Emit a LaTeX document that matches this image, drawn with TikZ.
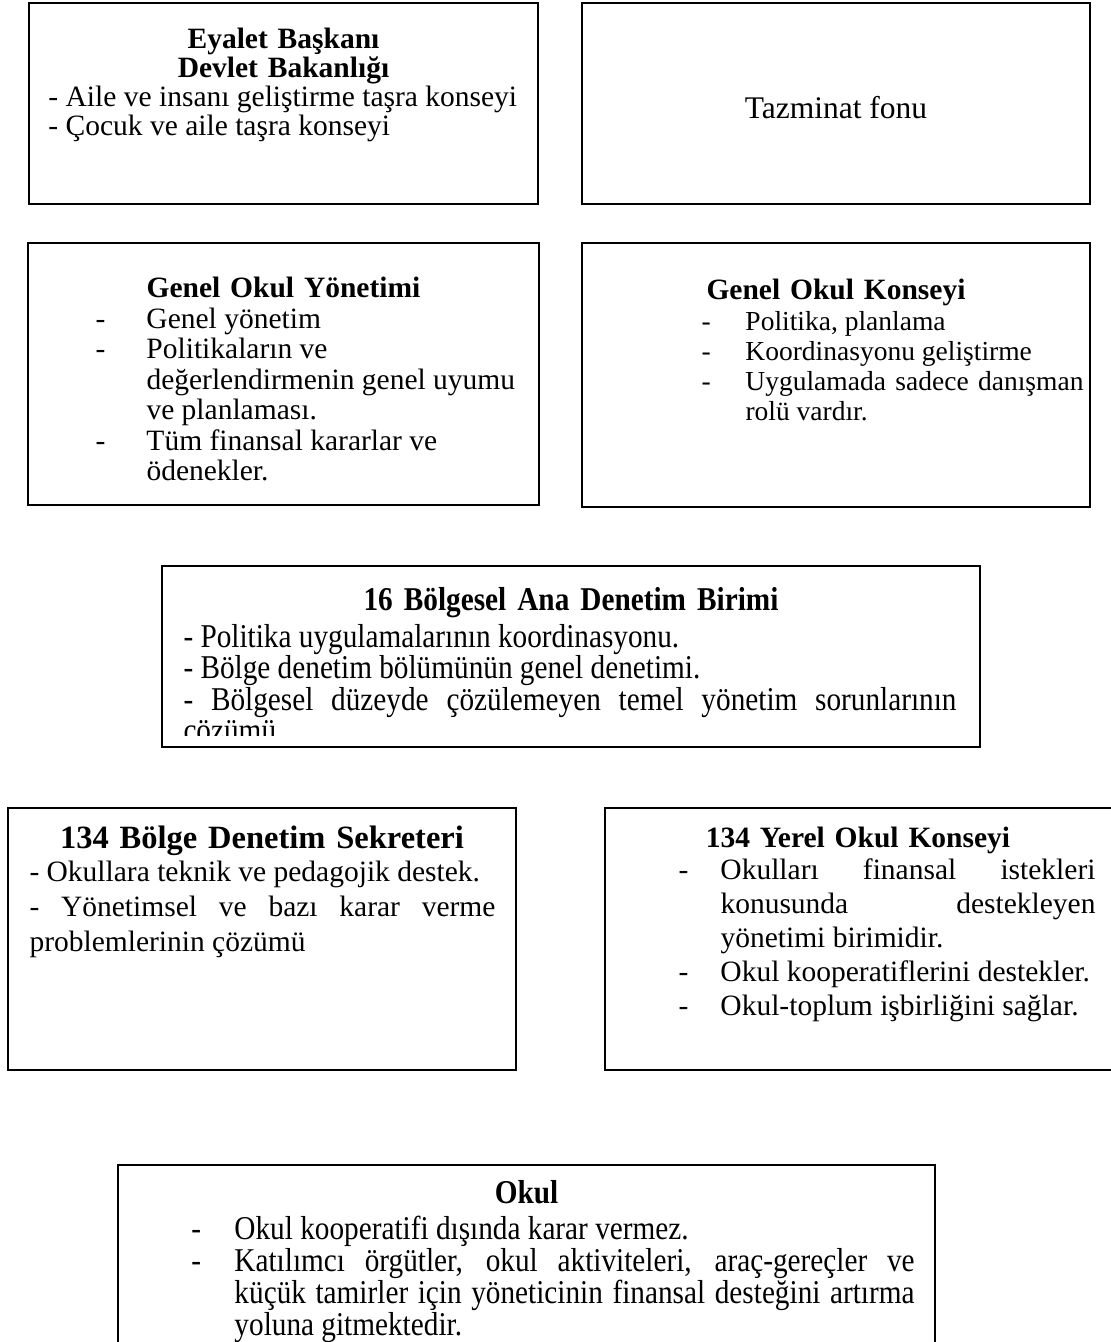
\documentclass[tikz,border=0pt]{standalone}
\usepackage{fontspec}
\setmainfont{Liberation Serif}
\newfontfamily\darfont[FakeStretch=0.88]{Liberation Serif}
\usetikzlibrary{calc,fit,positioning}
\newcommand{\madde}[1]{\noindent\llap{\makebox[#1][l]{-}}}
\lineskiplimit=-\maxdimen
\hyphenpenalty=10000
\tikzset{
  kutu/.style={draw, line width=0.9pt, inner sep=0pt, outer sep=0pt},
  baslik/.style={inner sep=0pt, anchor=base, text width=260pt, align=center, font=\bfseries\fontsize{11.8}{10}\selectfont},
  metin/.style={inner sep=0pt, anchor=base west},
}
\begin{document}
\begin{tikzpicture}[x=0.4pt, y=-0.4pt]
\useasboundingbox (0,0) rectangle (1111,1342);
% kutular
\node[kutu, fit={(29,3) (538,204)}] (eyalet) {};
\node[kutu, fit={(582,3) (1090,204)}] (tazminat) {};
\node[kutu, fit={(28,243) (539,505)}] (genelyon) {};
\node[kutu, fit={(582,243) (1090,507)}] (genelkon) {};
\node[kutu, fit={(162,566) (980,747)}] (bolgesel) {};
\node[kutu, fit={(8,808) (516,1070)}] (sekreter) {};
\node[kutu, fit={(605,808) (1125,1070)}] (yerel) {};
\node[kutu, fit={(118,1165) (935,1400)}] (okul) {};
% 1. satir
\node[baslik, font=\bfseries\fontsize{11.8}{9.2}\selectfont] (eyaletbas) at ($(eyalet.north west)+(254.5,45)$) {Eyalet Başkanı\\Devlet Bakanlığı};
\node[metin, text width=205pt, align=flush left, font=\fontsize{11.8}{10.4}\selectfont] (eyaletmetin) at ($(eyalet.north west)+(19,103)$) {- Aile ve insanı geliştirme taşra konseyi\\- Çocuk ve aile taşra konseyi};
\node[inner sep=0pt, anchor=base, font=\fontsize{12.6}{14}\selectfont] (tazminatyazi) at ($(tazminat.north west)+(254,115)$) {Tazminat fonu};
% 2. satir
\node[baslik] (genelyonbas) at ($(genelyon.north west)+(255.5,54)$) {Genel Okul Yönetimi};
\node[metin, text width=160pt, align=flush left, font=\fontsize{11.8}{12.2}\selectfont] (genelyonmetin) at ($(genelyon.north west)+(118,85)$) {\madde{20.4pt}Genel yönetim\par
  \madde{20.4pt}Politikaların ve\\ değerlendirmenin genel uyumu\\ ve planlaması.\par
  \madde{20.4pt}Tüm finansal kararlar ve\\ ödenekler.};
\node[baslik] (genelkonbas) at ($(genelkon.north west)+(254,56)$) {Genel Okul Konseyi};
\node[metin, text width=135.2pt, align=justify, font=\fontsize{11}{12}\selectfont] (genelkonmetin) at ($(genelkon.north west)+(163,87)$) {\madde{17.6pt}Politika, planlama\par
  \madde{17.6pt}Koordinasyonu geliştirme\par
  \madde{17.6pt}Uygulamada sadece danışman\linebreak rolü vardır.};
% 3. satir
\begin{scope}
\clip (162,566) rectangle (980,735);
\node[baslik, font=\darfont\bfseries\fontsize{13.3}{12.6}\selectfont] (bolgeselbas) at ($(bolgesel.north west)+(409,44)$) {16 Bölgesel Ana Denetim Birimi};
\node[metin, text width=309.2pt, align=justify, font=\darfont\fontsize{13.3}{12.6}\selectfont] (bolgeselmetin) at ($(bolgesel.north west)+(21,81)$) {- Politika uygulamalarının koordinasyonu.\par
  - Bölge denetim bölümünün genel denetimi.\par
  - Bölgesel düzeyde çözülemeyen temel yönetim sorunlarının\linebreak çözümü};
\end{scope}
% 4. satir
\node[baslik, font=\bfseries\fontsize{13}{14}\selectfont] (sekreterbas) at ($(sekreter.north west)+(254,40)$) {134 Bölge Denetim Sekreteri};
\node[metin, text width=186.4pt, align=justify, font=\fontsize{11.8}{14}\selectfont] (sekretermetin) at ($(sekreter.north west)+(21,73)$) {- Okullara teknik ve pedagojik destek.\par
  - Yönetimsel ve bazı karar verme\linebreak problemlerinin çözümü};
\node[baslik] (yerelbas) at ($(yerel.north west)+(253,39)$) {134 Yerel Okul Konseyi};
\node[metin, text width=150pt, align=justify, font=\fontsize{11.8}{13.6}\selectfont] (yerelmetin) at ($(yerel.north west)+(115,71)$) {\madde{16.8pt}Okulları finansal istekleri\linebreak konusunda destekleyen\linebreak yönetimi birimidir.\par
  \madde{16.8pt}\mbox{Okul kooperatiflerini destekler.}\par
  \madde{16.8pt}Okul-toplum işbirliğini sağlar.};
% 5. satir
\node[baslik, font=\darfont\bfseries\fontsize{13.3}{12.8}\selectfont] (okulbas) at ($(okul.north west)+(408.5,38)$) {Okul};
\node[metin, text width=272pt, align=justify, font=\darfont\fontsize{13.3}{12.8}\selectfont] (okulmetin) at ($(okul.north west)+(116,74)$) {\madde{17.2pt}Okul kooperatifi dışında karar vermez.\par
  \madde{17.2pt}Katılımcı örgütler, okul aktiviteleri, araç-gereçler ve\linebreak küçük tamirler için yöneticinin finansal desteğini artırma\linebreak yoluna gitmektedir.};
\end{tikzpicture}
\end{document}
